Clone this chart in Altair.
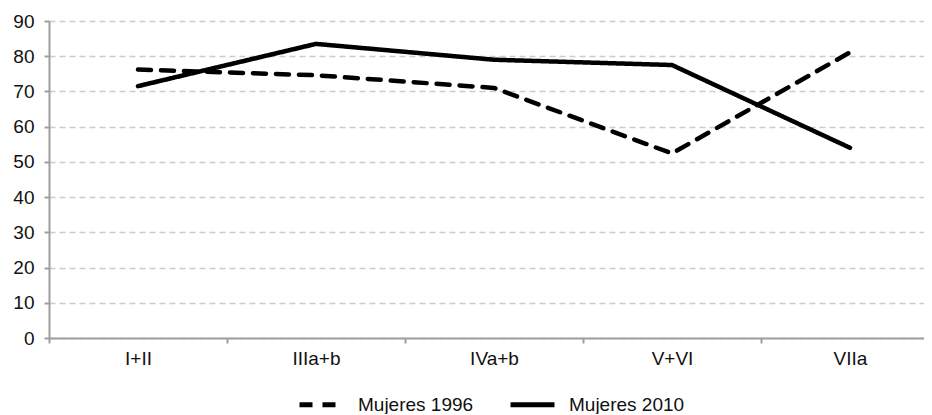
import altair as alt
import pandas as pd

categories = ["I+II", "IIIa+b", "IVa+b", "V+VI", "VIIa"]
series_names = ["Mujeres 1996", "Mujeres 2010"]
values_1996 = [76.2, 74.6, 71.0, 52.4, 81.1]
values_2010 = [71.5, 83.5, 79.0, 77.5, 54.0]
y_ticks = [0, 10, 20, 30, 40, 50, 60, 70, 80, 90]

rows = []
for i, c in enumerate(categories):
    rows.append({"cat": c, "serie": series_names[0], "valor": values_1996[i]})
    rows.append({"cat": c, "serie": series_names[1], "valor": values_2010[i]})
df = pd.DataFrame(rows)

FONT = "Liberation Sans"
FS = 19

chart = alt.Chart(df).mark_line(
    color="black", strokeWidth=4.5, strokeCap="round", strokeJoin="round"
).encode(
    x=alt.X(
        "cat:N",
        sort=categories,
        bandPosition=0.5,
        scale=alt.Scale(type="band", range=[0, 890], paddingInner=0, paddingOuter=0),
        axis=alt.Axis(
            title=None, labelAngle=0, tickBand="extent", grid=False,
            domainColor="#9e9e9e", domainWidth=2, tickColor="#9e9e9e", tickWidth=2,
            tickSize=5, labelPadding=6, labelFontSize=FS, labelFont=FONT, labelColor="#111",
        ),
    ),
    y=alt.Y(
        "valor:Q",
        scale=alt.Scale(domain=[0, 90], nice=False, zero=True),
        axis=alt.Axis(
            title=None, values=y_ticks, grid=True, gridColor="#cccccc", gridWidth=1.5,
            gridDash=[6, 4], domainColor="#9e9e9e", domainWidth=2, tickColor="#9e9e9e",
            tickWidth=2, tickSize=5, labelPadding=10, labelFontSize=FS, labelFont=FONT,
            labelColor="#111",
        ),
    ),
    strokeDash=alt.StrokeDash(
        "serie:N",
        scale=alt.Scale(domain=series_names, range=[[13, 10], [1, 0]]),
        legend=alt.Legend(
            title=None, orient="none", legendX=248, legendY=359, direction="horizontal",
            symbolType="stroke", symbolSize=1936, symbolStrokeWidth=5,
            symbolStrokeColor="black", symbolOpacity=1, labelFontSize=FS, labelFont=FONT,
            labelColor="#111", labelOffset=12, columnPadding=26, padding=0,
        ),
    ),
    detail="serie:N",
).properties(
    width=875, height=317,
    autosize=alt.AutoSizeParams(type="none"),
    padding={"left": 41, "top": 13, "right": 0, "bottom": 76},
).configure_view(stroke=None)

chart.save("out.html", embed_options={"renderer": "svg", "actions": False})
